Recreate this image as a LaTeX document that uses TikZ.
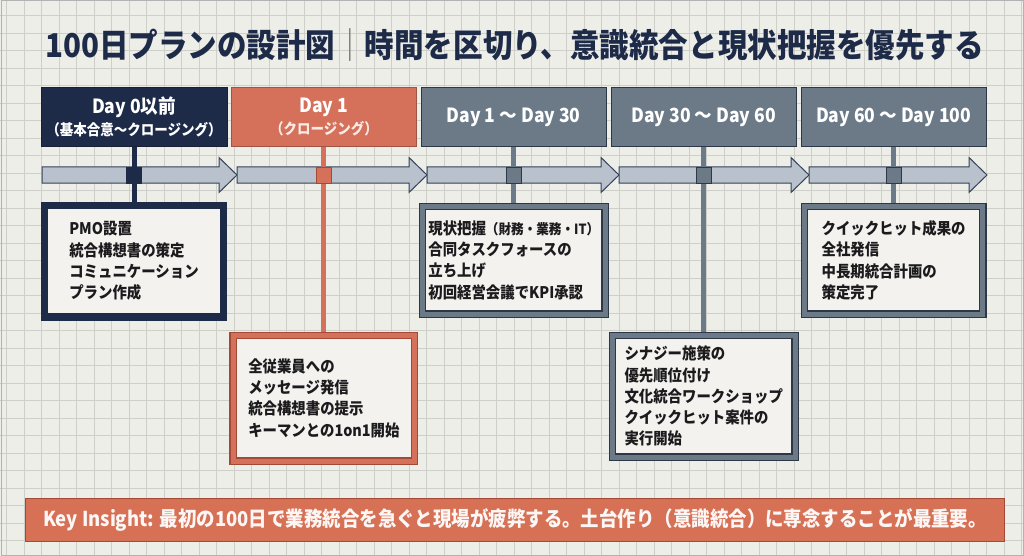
\documentclass[tikz,border=0pt]{standalone}
\usepackage{fontspec}
\setmainfont{Noto Sans CJK JP}[FakeStretch=0.9]
\usetikzlibrary{positioning}
\definecolor{paper}{HTML}{EEEEE9}
\definecolor{gridc}{HTML}{CFCFCA}
\definecolor{navy}{HTML}{1D2B49}
\definecolor{coral}{HTML}{D5705A}
\definecolor{coraldk}{HTML}{A24A36}
\definecolor{slate}{HTML}{6C7A88}
\definecolor{slatedk}{HTML}{2C3848}
\definecolor{band}{HTML}{B8C1CC}
\definecolor{bandedge}{HTML}{34425A}
\definecolor{card}{HTML}{F3F2EE}
\definecolor{ink}{HTML}{1B1B1E}

\begin{document}
\begin{tikzpicture}[x=1pt, y=-1pt,
  node distance=4pt,
  hd/.style={draw=#1!75!black, fill=#1, minimum width=185.5pt, minimum height=59pt,
             inner sep=0pt, align=center, text=white, font=\bfseries\fontsize{19.5}{22}\selectfont},
  note/.style 2 args={draw=#1, double=#2, line width=1.2pt, double distance=5pt,
             fill=card, outer sep=3.7pt, align=left, text=ink,
             font=\bfseries\fontsize{16}{21.3}\selectfont},
  tick/.style 2 args={draw=#1, fill=#2, line width=0.8pt, minimum width=15pt,
             minimum height=16pt, inner sep=0pt},
  link/.style={draw=#1, line width=5pt},
  axisarr/.style={draw=bandedge, fill=band, line width=1pt, line join=miter}]
\useasboundingbox (0,0) rectangle (1024,556);
% squared paper
\fill[paper] (0,0) rectangle (1024,556);
\foreach \i in {0,...,58} \draw[gridc, line width=0.8pt] ({6.7+17.5*\i},0) -- ++(0,556);
\foreach \j in {0,...,31} \draw[gridc, line width=0.8pt] (0,{-2+17.5*\j}) -- ++(1024,0);
\draw[gray!60, line width=1pt] (1,1) rectangle (1023,555);

% title
\node[text=navy, font=\bfseries\fontsize{32.8}{37}\selectfont] (ttl) at (514.5,45)
  {100日プランの設計図{\color{gray}｜}時間を区切り、意識統合と現状把握を優先する};

% timeline
\coordinate (axis) at (0,175);
\foreach \a/\b in {42/237, 237/427, 427/619, 619/809, 809/987}
  \draw[axisarr] (\a,167) -- (\b-18,167) -- (\b-18,157.5) -- (\b,175)
    -- (\b-18,192.5) -- (\b-18,183) -- (\a,183) -- cycle;

% phase headers
\node[hd=navy] (pre) at (134,117) {Day 0以前\\[0pt]{\fontsize{15}{17}\selectfont （基本合意〜クロージング）}};
\node[hd=coral, right=of pre] (d1) {Day 1\\[0pt]{\fontsize{15}{17}\selectfont\color{white!85!coral}（クロージング）}};
\node[hd=slate, draw=slatedk, right=of d1] (d30) {Day 1 〜 Day 30};
\node[hd=slate, draw=slatedk, right=of d30] (d60) {Day 30 〜 Day 60};
\node[hd=slate, draw=slatedk, right=of d60] (d100) {Day 60 〜 Day 100};

% action cards
\node[note={navy}{navy}, minimum width=178.6pt, minimum height=111.6pt, below=55pt of pre] (b0)
  {PMO設置\\統合構想書の策定\\コミュニケーション\\プラン作成};
\node[note={coraldk}{coral}, minimum width=181.6pt, minimum height=125.6pt, below=185pt of d1] (b1)
  {全従業員への\\メッセージ発信\\統合構想書の提示\\キーマンとの1on1開始};
\node[note={slatedk}{slate}, minimum width=182.6pt, minimum height=107.6pt, below=56pt of d30] (b2)
  {現状把握{\fontsize{14}{15}\selectfont（財務・業務・IT）}\\合同タスクフォースの\\立ち上げ\\初回経営会議でKPI承認};
\node[note={slatedk}{slate}, minimum width=182.6pt, minimum height=121.6pt, below=185pt of d60] (b3)
  {シナジー施策の\\優先順位付け\\文化統合ワークショップ\\クイックヒット案件の\\実行開始};
\node[note={slatedk}{slate}, minimum width=178.6pt, minimum height=107.6pt, below=56pt of d100] (b4)
  {クイックヒット成果の\\全社発信\\中長期統合計画の\\策定完了};

% drop lines and ticks on the axis
\draw[link=navy] (pre.south) -- (b0.north);
\draw[link=coral] (d1.south) -- (b1.north);
\draw[link=slate] (d30.south) -- (b2.north);
\draw[link=slate] (d60.south) -- (b3.north);
\draw[link=slate] (d100.south) -- (b4.north);
\node[tick={navy}{navy}] (t0) at (pre |- axis) {};
\node[tick={coraldk}{coral}] (t1) at (d1 |- axis) {};
\node[tick={slatedk}{slate}] (t2) at (d30 |- axis) {};
\node[tick={slatedk}{slate}] (t3) at (d60 |- axis) {};
\node[tick={slatedk}{slate}] (t4) at (d100 |- axis) {};

% key insight bar
\node[draw=coraldk, fill=coral!95!orange, line width=1.2pt, minimum width=979pt, minimum height=43pt,
      text=white!94!coral, font=\bfseries\fontsize{20.5}{24}\selectfont] (key) at (515,520)
  {Key Insight: 最初の100日で業務統合を急ぐと現場が疲弊する。土台作り（意識統合）に専念することが最重要。};
\end{tikzpicture}
\end{document}
